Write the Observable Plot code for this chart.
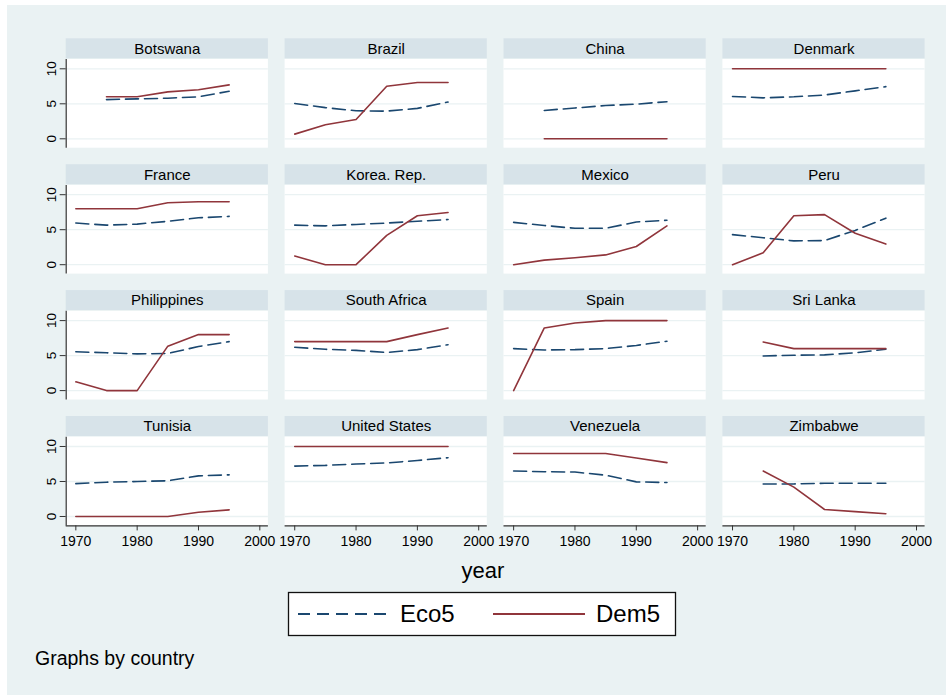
<!DOCTYPE html>
<html>
<head>
<meta charset="utf-8">
<script src="https://cdn.jsdelivr.net/npm/d3@7"></script>
<script src="https://cdn.jsdelivr.net/npm/@observablehq/plot@0.6"></script>
<style>
html, body { margin: 0; padding: 0; background: #ffffff; }
#wrap { position: relative; width: 946px; height: 695px; overflow: hidden; font-family: "Liberation Sans", Arial, sans-serif; }
#bg { position: absolute; left: 7px; top: 5px; right: 0; bottom: 0; background: #eaf2f3; }
#chart { position: absolute; left: 0; top: 0; }
#below { position: absolute; left: 0; top: 556px; }
</style>
</head>
<body>
<div id="wrap">
  <div id="bg"></div>
  <div id="chart"></div>
  <svg id="below" width="946" height="139" xmlns="http://www.w3.org/2000/svg" font-family="Liberation Sans, Arial, sans-serif"></svg>
</div>
<script>
// ---------- data ----------
const countries = ["Botswana", "Brazil", "China", "Denmark",
                   "France", "Korea. Rep.", "Mexico", "Peru",
                   "Philippines", "South Africa", "Spain", "Sri Lanka",
                   "Tunisia", "United States", "Venezuela", "Zimbabwe"];
const years = [1970, 1975, 1980, 1985, 1990, 1995];
const eco5 = [
  [null, 5.6, 5.7, 5.8, 6.0, 6.8],
  [5.05, 4.45, 4.0, 3.95, 4.35, 5.25],
  [null, 4.05, 4.4, 4.75, 4.95, 5.3],
  [6.05, 5.85, 6.0, 6.25, 6.85, 7.45],
  [5.95, 5.65, 5.8, 6.2, 6.7, 6.9],
  [5.65, 5.55, 5.75, 5.95, 6.2, 6.45],
  [6.05, 5.6, 5.2, 5.2, 6.1, 6.35],
  [4.3, 3.85, 3.4, 3.45, 4.9, 6.65],
  [5.55, 5.4, 5.25, 5.3, 6.3, 7.0],
  [6.2, 5.9, 5.75, 5.45, 5.85, 6.55],
  [6.0, 5.8, 5.85, 6.0, 6.45, 7.05],
  [null, 4.95, 5.05, 5.1, 5.4, 5.9],
  [4.7, 4.9, 5.0, 5.1, 5.8, 5.95],
  [7.2, 7.3, 7.5, 7.65, 8.0, 8.4],
  [6.5, 6.4, 6.35, 5.9, 4.95, 4.85],
  [null, 4.65, 4.65, 4.75, 4.75, 4.75]
];
const dem5 = [
  [null, 6.0, 6.0, 6.7, 7.0, 7.7],
  [0.67, 2.0, 2.75, 7.5, 8.05, 8.05],
  [null, 0, 0, 0, 0, 0],
  [10, 10, 10, 10, 10, 10],
  [8, 8, 8, 8.85, 9, 9],
  [1.25, 0, 0, 4.2, 7.0, 7.45],
  [0, 0.65, 1.0, 1.4, 2.6, 5.55],
  [0, 1.7, 7.0, 7.15, 4.5, 2.95],
  [1.25, 0, 0, 6.35, 8.0, 8.0],
  [7, 7, 7, 7, 8.0, 8.95],
  [0, 8.95, 9.65, 10, 10, 10],
  [null, 6.95, 6.0, 6.0, 6.0, 6.0],
  [0, 0, 0, 0, 0.6, 0.95],
  [10, 10, 10, 10, 10, 10],
  [9, 9, 9, 9, 8.35, 7.7],
  [null, 6.5, 4.2, 1.0, 0.7, 0.4]
];
const xTicks = [1970, 1980, 1990, 2000];
const yTicks = [0, 5, 10];
const seriesNames = ["Eco5", "Dem5"];

// ---------- layout / style ----------
const NCOL = 4;
const xDomain = [1968.43, 2001.4];
const yDomain = [-1.343, 14.286];   // bottom of plot region .. top of title band
const yPlotTop = 11.33;
const yBandBottom = 11.43;
const ecoColor = "#1a476f";
const demColor = "#90353b";
const bandColor = "#d7e3e9";
const gridColor = "#eaf2f3";
const axisColor = "#333333";
const dash = "13,6";
const font = "Liberation Sans, Arial, sans-serif";

const panels = countries.map((c, i) => ({country: c, col: i % NCOL, row: Math.floor(i / NCOL)}));
const nRows = Math.ceil(countries.length / NCOL);
const table = [];
countries.forEach((c, i) => years.forEach((yr, j) => {
  table.push({country: c, col: i % NCOL, row: Math.floor(i / NCOL), year: yr, eco: eco5[i][j], dem: dem5[i][j]});
}));
const ecoData = table.filter(d => d.eco != null);
const demData = table.filter(d => d.dem != null);

const chart = Plot.plot({
  width: 946,
  height: 556,
  marginLeft: 65.7,
  marginRight: 21.4,
  marginTop: 38.3,
  marginBottom: 30.6,
  style: {background: "transparent", fontFamily: font, overflow: "visible"},
  fx: {domain: d3.range(NCOL), paddingInner: 0.0763, paddingOuter: 0, round: false, axis: null},
  fy: {domain: d3.range(nRows), paddingInner: 0.131, paddingOuter: 0, round: false, axis: null},
  x: {domain: xDomain, label: null},
  y: {domain: yDomain, label: null},
  marks: [
    Plot.rect(panels, {fx: "col", fy: "row", x1: () => xDomain[0], x2: () => xDomain[1], y1: () => yDomain[0], y2: () => yPlotTop, fill: "white"}),
    Plot.rect(panels, {fx: "col", fy: "row", x1: () => xDomain[0], x2: () => xDomain[1], y1: () => yBandBottom, y2: () => yDomain[1], fill: bandColor}),
    Plot.ruleY(yTicks, {stroke: gridColor, strokeWidth: 1.3}),
    Plot.line(ecoData, {fx: "col", fy: "row", x: "year", y: "eco", stroke: ecoColor, strokeWidth: 1.6, strokeDasharray: dash}),
    Plot.line(demData, {fx: "col", fy: "row", x: "year", y: "dem", stroke: demColor, strokeWidth: 1.6}),
    Plot.ruleX(panels.filter(p => p.col === 0), {fx: "col", fy: "row", x: () => xDomain[0], y1: () => yDomain[0], y2: () => yPlotTop, stroke: axisColor, strokeWidth: 1.2}),
    Plot.ruleY(panels.filter(p => p.row === nRows - 1), {fx: "col", fy: "row", y: () => yDomain[0], x1: () => xDomain[0], x2: () => xDomain[1], stroke: axisColor, strokeWidth: 1.2}),
    Plot.axisY({ticks: yTicks, tickSize: 6, tickPadding: 4, tickRotate: -90, textAnchor: "middle", lineAnchor: "bottom", fontSize: 13.5, stroke: axisColor, fill: "black", label: null, facetAnchor: "left"}),
    Plot.axisX({ticks: xTicks, tickSize: 5, tickPadding: 5, tickFormat: "d", fontSize: 14, stroke: axisColor, fill: "black", label: null, facetAnchor: "bottom"}),
    Plot.text(panels, {fx: "col", fy: "row", text: "country", frameAnchor: "top", dy: 10, lineAnchor: "middle", fontSize: 15, fill: "black"})
  ]
});
document.getElementById("chart").appendChild(chart);

// ---------- x label, legend, caption (below the SVG) ----------
const ns = "http://www.w3.org/2000/svg";
const below = document.getElementById("below");
function el(tag, attrs, text) {
  const e = document.createElementNS(ns, tag);
  for (const k in attrs) e.setAttribute(k, attrs[k]);
  if (text != null) e.textContent = text;
  below.appendChild(e);
  return e;
}
el("text", {x: 483, y: 22, "text-anchor": "middle", "font-size": 22, fill: "black"}, "year");
el("rect", {x: 288.5, y: 36.5, width: 387, height: 43, fill: "white", stroke: "#111", "stroke-width": 1.3});
el("line", {x1: 298, x2: 390, y1: 58, y2: 58, stroke: ecoColor, "stroke-width": 2, "stroke-dasharray": "12,7"});
el("text", {x: 400, y: 66, "font-size": 24, fill: "black"}, seriesNames[0]);
el("line", {x1: 493, x2: 585, y1: 58, y2: 58, stroke: demColor, "stroke-width": 2});
el("text", {x: 596, y: 66, "font-size": 24, fill: "black"}, seriesNames[1]);
el("text", {x: 35, y: 109, "font-size": 19.5, fill: "black"}, "Graphs by country");
</script>
</body>
</html>
